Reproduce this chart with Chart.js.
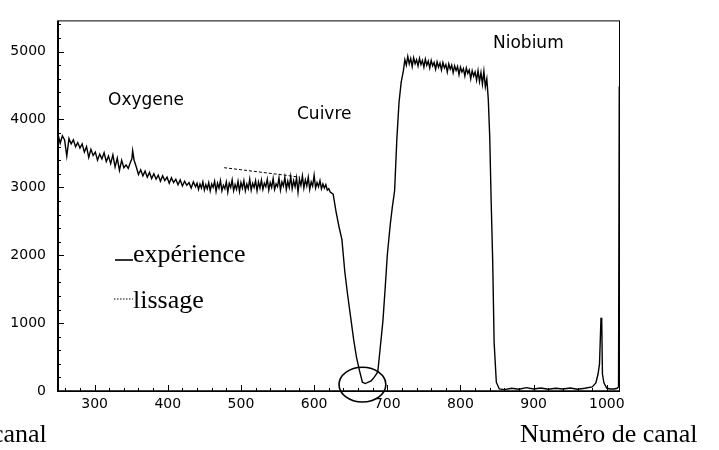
<!DOCTYPE html>
<html>
<head>
<meta charset="utf-8">
<script src="https://cdn.jsdelivr.net/npm/chart.js@4.4.0/dist/chart.umd.min.js"></script>
<style>
html,body{margin:0;padding:0;background:#fff;}
#wrap{position:relative;width:719px;height:450px;overflow:hidden;}
canvas{display:block;}
</style>
</head>
<body>
<div id="wrap"><canvas id="c" width="719" height="450"></canvas></div>
<script>
// ---- data: [channel, counts] ----
const expOxygen = [
[250,3780],[253,3650],[256,3760],[259,3700],[262,3460],[265,3720],[268,3640],[271,3700],[274,3600],[277,3660],
[280,3580],[283,3640],[286,3520],[289,3600],[292,3440],[295,3560],[298,3470],[301,3520],[304,3400],[307,3490],
[310,3420],[313,3510],[316,3380],[319,3460],[322,3350],[325,3480],[328,3300],[331,3430],[334,3250],[337,3400],
[340,3290],[343,3330],[346,3280],[349,3370],[351,3420],[352,3540],[354,3400],[357,3300],[360,3190],[363,3260],
[366,3170],[369,3240],[372,3150],[375,3220],[378,3130],[381,3200],[384,3120],[387,3180],[390,3090],[393,3170],
[396,3100],[399,3150],[402,3060],[405,3140],[408,3070],[411,3120],[414,3040],[417,3110],[420,3020],[423,3090],
[426,3030],[429,3070],[432,2990],[435,3080],[438,3010]
];
const expSurface = [
[440,3060],[442,2970],[444,3050],[446,2990],[448,3080],[450,2960],[452,3040],[454,2980],[456,3070],[458,2950],
[460,3050],[462,3000],[464,3090],[466,2940],[468,3060],[470,2990],[472,3100],[474,2950],[476,3030],[478,2980],
[480,3080],[482,2930],[484,3060],[486,3000],[488,3110],[490,2950],[492,3040],[494,2970],[496,3090],[498,2940],
[500,3070],[502,2990],[504,3100],[506,2950],[508,3050],[510,2980],[512,3120],[514,2960],[516,3060],[518,3000],
[520,3100],[522,2950],[524,3080],[526,2990],[528,3110],[530,2970],[532,3060],[534,3010],[536,3120],[538,2960],
[540,3070],[542,3000],[544,3130],[546,2970],[548,3050],[550,3010],[552,3140],[554,2960],[556,3080],[558,3020],
[560,3150],[562,2970],[564,3090],[566,3000],[568,3160],[570,2980],[572,3100],[574,3010],[576,3140],[578,2930],
[580,3120],[582,3030],[584,3170],[586,2990],[588,3110],[590,3020],[592,3150],[594,2970],[596,3080],[598,3020],
[600,3180],[602,2990],[604,3070],[606,3010],[608,3100],[610,2980],[612,3050],[614,2990],[616,3040],[618,2960],
[620,2980],[622,2930]
];
const expCopperDip = [
[626,2900],[630,2640],[634,2420],[638,2230],[642,1750],[646,1400],[650,1080],[654,760],[658,490],[662,300],
[666,130],[670,110],[674,130],[678,150],[682,200],[687,280],[690,600],[694,1030],[697,1500],[700,2000],
[704,2450],[707,2720],[710,2950]
];
const expNiobium = [
[713,3700],[716,4250],[719,4550],[722,4720],[724,4880],[726,4800],[728,4930],[730,4820],[732,4900],[734,4780],
[736,4910],[738,4820],[740,4880],[742,4790],[744,4900],[746,4810],[748,4870],[750,4770],[752,4890],[754,4800],
[756,4860],[758,4760],[760,4870],[762,4790],[764,4840],[766,4740],[768,4850],[770,4770],[772,4830],[774,4730],
[776,4840],[778,4760],[780,4810],[782,4700],[784,4820],[786,4740],[788,4800],[790,4690],[792,4790],[794,4720],
[796,4780],[798,4660],[800,4770],[802,4700],[804,4750],[806,4640],[808,4760],[810,4680],[812,4730],[814,4600],
[816,4720],[818,4640],[820,4700],[822,4580],[824,4720],[826,4560],[828,4690],[830,4520],[832,4710],[834,4480],
[836,4600],[838,4300],[840,3740],[842,2770],[844,1930],[846,710],[849,130],[853,30]
];
const expTail = [
[860,20],[870,40],[880,25],[890,50],[900,30],[910,45],[920,25],[930,40],[940,30],[950,45],
[960,25],[970,40],[980,60],[985,120],[988,250],[990,400],[992,1070],[993,1070],[994,250],[996,120],
[1000,40],[1005,30],[1010,30],[1014,40],[1016,60],[1017,4480],[1018,4480]
];
const lissage = [[477,3290],[500,3260],[530,3220],[560,3180],[580,3150]];

const xTickValues = [300,400,500,600,700,800,900,1000];
const yTickValues = [0,1000,2000,3000,4000,5000];
const regionLabels = ["Oxygene","Cuivre","Niobium"];
const legendLabels = ["expérience","lissage"];
const axisTitle = "Numéro de canal";

const toPts = arr => arr.map(p => ({x:p[0], y:p[1]}));
const experience = [].concat(expOxygen, expSurface, expCopperDip, expNiobium, expTail);

function seg(ctx,x1,y1,x2,y2){ctx.beginPath();ctx.moveTo(x1,y1);ctx.lineTo(x2,y2);ctx.stroke();}

const decor = {
  id:'decor',
  afterDraw(chart){
    const {ctx, chartArea:a, scales:{x,y}} = chart;
    ctx.save();
    ctx.strokeStyle='#000';
    ctx.fillStyle='#000';
    // frame
    ctx.lineWidth=1;
    ctx.strokeRect(a.left+0.5, a.top+0.5, a.right-a.left-1, a.bottom-a.top);
    ctx.lineWidth=2;
    seg(ctx,a.left,a.top,a.left,a.bottom+1);
    ctx.lineWidth=1.5;
    seg(ctx,a.left,a.bottom,a.right,a.bottom);
    // inward ticks
    ctx.lineWidth=1;
    for(let v=260; v<=1010; v+=20){
      const px=Math.round(x.getPixelForValue(v))+0.5;
      const len=(v%100===0)?6:3;
      seg(ctx,px,a.bottom,px,a.bottom-len);
    }
    for(let v=200; v<=5400; v+=200){
      const py=Math.round(y.getPixelForValue(v))+0.5;
      const len=(v%1000===0)?6:3;
      seg(ctx,a.left,py,a.left+len,py);
    }
    // ellipse round the dip
    const cx=x.getPixelForValue(666), cy=y.getPixelForValue(94);
    const rx=Math.abs(x.getPixelForValue(698)-cx), ry=Math.abs(y.getPixelForValue(350)-cy);
    ctx.lineWidth=1.6;
    ctx.beginPath(); ctx.ellipse(cx,cy,rx,ry,0,0,Math.PI*2); ctx.stroke();
    // region labels
    ctx.font='17px "DejaVu Sans"';
    ctx.textBaseline='alphabetic';
    ctx.fillText(regionLabels[0],108,105);
    ctx.fillText(regionLabels[1],297,119);
    ctx.fillText(regionLabels[2],493,48);
    // legend
    ctx.font='26px "Liberation Serif"';
    ctx.lineWidth=1.6;
    seg(ctx,115,260,133,260);
    ctx.fillText(legendLabels[0],133,262);
    ctx.lineWidth=1;
    ctx.setLineDash([1.5,1.5]);
    seg(ctx,114,299,133,299);
    ctx.setLineDash([]);
    ctx.fillText(legendLabels[1],133,308);
    // axis titles (the scan shows it twice)
    ctx.fillText("canal",-8,442);
    ctx.fillText(axisTitle,520,442);
    ctx.restore();
  }
};

new Chart(document.getElementById('c'),{
  type:'line',
  data:{datasets:[
    {label:legendLabels[0], data:toPts(experience), borderColor:'#000', borderWidth:1.4, pointRadius:0, tension:0, fill:false},
    {label:legendLabels[1], data:toPts(lissage), borderColor:'#000', borderWidth:1, borderDash:[3,2], pointRadius:0, tension:0, fill:false}
  ]},
  options:{
    responsive:false, animation:false, devicePixelRatio:1,
    layout:{padding:{top:14,right:99,left:0,bottom:0}},
    plugins:{legend:{display:false}, tooltip:{enabled:false}},
    scales:{
      x:{type:'linear', min:250, max:1018,
        afterBuildTicks:s=>{s.ticks=xTickValues.map(v=>({value:v}));},
        afterFit:s=>{s.height=59;},
        grid:{display:false, drawTicks:false}, border:{display:false},
        ticks:{color:'#000', padding:5, maxRotation:0, autoSkip:false, callback:v=>String(v), font:{family:'DejaVu Sans', size:14}}
      },
      y:{type:'linear', min:0, max:5460,
        afterBuildTicks:s=>{s.ticks=yTickValues.map(v=>({value:v}));},
        afterFit:s=>{s.width=58;},
        grid:{display:false, drawTicks:false}, border:{display:false},
        ticks:{color:'#000', padding:12, autoSkip:false, callback:v=>String(v), font:{family:'DejaVu Sans', size:14}}
      }
    }
  },
  plugins:[decor]
});
</script>
</body>
</html>
